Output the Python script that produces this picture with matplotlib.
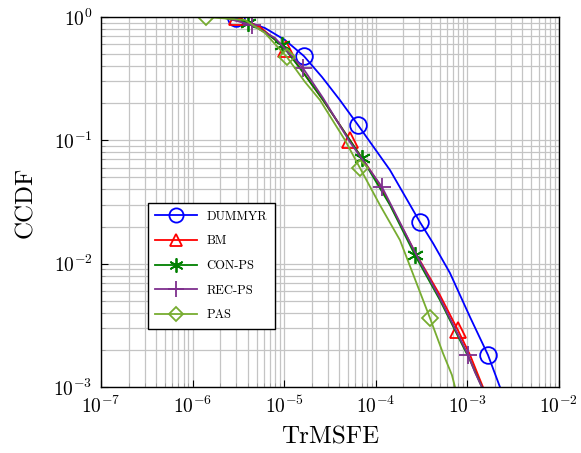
import matplotlib
matplotlib.use("Agg")
import matplotlib.pyplot as plt
import numpy as np

plt.rcParams['font.family'] = 'cmr10'
plt.rcParams['mathtext.fontset'] = 'cm'
plt.rcParams['axes.formatter.use_mathtext'] = True

# TrMSFE (x) vs CCDF (y)
dummyr_x = [2.26e-6, 2.98e-6, 6.16e-6, 1.02e-5, 1.64e-5, 2.59e-5, 4.06e-5, 6.40e-5,
            1.43e-4, 3.04e-4, 4.21e-4, 6.46e-4, 1.07e-3, 1.68e-3, 2.27e-3]
dummyr_y = [1.0, 0.98, 0.814, 0.651, 0.483, 0.326, 0.212, 0.133,
            0.0574, 0.0217, 0.0147, 0.0084, 0.00369, 0.00182, 0.001]
dummyr_marks = [1, 4, 7, 9, 13]

bm_x = [1.76e-6, 3.06e-6, 5.45e-6, 1.05e-5, 1.69e-5, 2.66e-5, 5.22e-5, 1.11e-4,
        2.68e-4, 5.02e-4, 7.89e-4, 1.07e-3, 1.31e-3, 1.48e-3]
bm_y = [1.0, 0.995, 0.83, 0.55, 0.339, 0.212, 0.1005, 0.0434,
        0.0124, 0.00556, 0.00289, 0.00182, 0.00125, 0.001]
bm_marks = [1, 3, 6, 10]

conps_x = [1.99e-6, 4.03e-6, 6.16e-6, 9.46e-6, 1.60e-5, 2.66e-5, 7.06e-5, 1.43e-4,
           2.68e-4, 5.02e-4, 8.30e-4, 1.07e-3, 1.44e-3]
conps_y = [1.0, 0.894, 0.756, 0.593, 0.358, 0.212, 0.0718, 0.0299,
           0.01174, 0.00507, 0.0024, 0.00165, 0.001]
conps_marks = [1, 3, 6, 8]

recps_x = [2.09e-6, 4.45e-6, 7.94e-6, 1.60e-5, 2.66e-5, 5.22e-5, 1.17e-4, 2.68e-4,
           5.02e-4, 1.02e-3, 1.21e-3, 1.44e-3]
recps_y = [1.0, 0.861, 0.676, 0.386, 0.22, 0.0969, 0.0418, 0.0124,
           0.00526, 0.00182, 0.00132, 0.001]
recps_marks = [1, 3, 6, 9]

pas_x = [1.40e-6, 3.73e-6, 6.16e-6, 1.07e-5, 1.69e-5, 2.46e-5, 4.61e-5, 6.73e-5,
         1.11e-4, 1.84e-4, 3.91e-4, 5.42e-4, 6.79e-4, 7.33e-4]
pas_y = [1.0, 0.946, 0.742, 0.474, 0.297, 0.212, 0.1005, 0.0596,
         0.0299, 0.0155, 0.00362, 0.00188, 0.00125, 0.001]
pas_marks = [0, 3, 7, 10]

series = [
    ("DUMMYR", dummyr_x, dummyr_y, dummyr_marks, (0, 0, 1), 'o', 12),
    ("BM", bm_x, bm_y, bm_marks, (1, 0, 0), '^', 11),
    ("CON-PS", conps_x, conps_y, conps_marks, (0, 0.5, 0), (6, 2, 0), 12),
    ("REC-PS", recps_x, recps_y, recps_marks, '#7E2F8E', '+', 13),
    ("PAS", pas_x, pas_y, pas_marks, '#77AC30', 'D', 8),
]

fig = plt.figure(figsize=(5.81, 4.53), dpi=100)
ax = fig.add_axes([0.1738, 0.1457, 0.7882, 0.8168])

for name, x, y, marks, color, marker, ms in series:
    ax.plot(x, y, color=color, lw=1.3, marker=marker, markevery=marks,
            markersize=ms, markerfacecolor='none', markeredgewidth=1.3,
            label=name)

ax.set_xscale('log')
ax.set_yscale('log')
ax.set_xlim(1e-7, 1e-2)
ax.set_ylim(1e-3, 1)
ax.set_xticks([1e-7, 1e-6, 1e-5, 1e-4, 1e-3, 1e-2])
ax.set_yticks([1e-3, 1e-2, 1e-1, 1])

ax.grid(True, which='both', color='#c4c4c4', lw=0.9)
ax.set_axisbelow(True)
ax.tick_params(which='both', direction='in', labelsize=14, pad=6)
ax.tick_params(which='minor', length=3, color='#999999')
ax.tick_params(which='major', length=5)
for s in ax.spines.values():
    s.set_linewidth(1.0)

ax.set_xlabel('TrMSFE', fontsize=18, labelpad=7)
ax.set_ylabel('CCDF', fontsize=18, labelpad=12)

leg = ax.legend(loc='upper left', bbox_to_anchor=(0.1026, 0.497), borderaxespad=0,
                fontsize=9, handlelength=3.3, labelspacing=1.0, fancybox=False,
                framealpha=1, edgecolor='black', borderpad=0.6, handletextpad=0.8,
                markerscale=0.85)
leg.get_frame().set_linewidth(1.0)

fig.savefig('out.png', dpi=100)
